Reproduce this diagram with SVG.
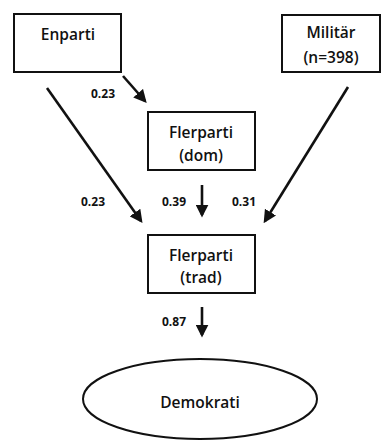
<svg xmlns="http://www.w3.org/2000/svg" width="382" height="441" viewBox="0 0 382 441">
<style>
.box{fill:#fff;stroke:#111;stroke-width:2}
.lbl{font-family:"Open Sans",Lato,sans-serif;font-weight:600;font-size:15.5px;fill:#111;text-anchor:middle}
.num{font-family:"Open Sans",Lato,sans-serif;font-weight:bold;font-size:12px;fill:#111}
.edge{stroke:#111;stroke-width:2.6;fill:none;marker-end:url(#ah)}
</style>
<defs>
<marker id="ah" markerWidth="5" markerHeight="5" refX="4" refY="2.5" orient="auto" markerUnits="strokeWidth">
<path d="M0,0 L5,2.5 L0,5 Z" fill="#111"/>
</marker>
</defs>
<rect width="382" height="441" fill="#fff"/>
<g id="connectors">
<line class="edge" x1="123" y1="76" x2="145" y2="101"/>
<line class="edge" x1="47" y1="88" x2="141" y2="221"/>
<line class="edge" x1="202" y1="185" x2="202" y2="215"/>
<line class="edge" x1="348" y1="87" x2="265" y2="221"/>
<line class="edge" x1="202" y1="307" x2="202" y2="335"/>
<text class="num" x="91" y="98">0.23</text>
<text class="num" x="81" y="206">0.23</text>
<text class="num" x="162" y="206">0.39</text>
<text class="num" x="232" y="206">0.31</text>
<text class="num" x="162" y="326">0.87</text>
</g>
<g id="enparti">
<rect class="box" x="14" y="14" width="107" height="58"/>
<text class="lbl" x="68" y="40">Enparti</text>
</g>
<g id="militar">
<rect class="box" x="282" y="15" width="98" height="57"/>
<text class="lbl" x="331" y="38">Militär</text>
<text class="lbl" x="331" y="63">(n=398)</text>
</g>
<g id="flerparti-dom">
<rect class="box" x="148" y="112" width="107" height="58"/>
<text class="lbl" x="201" y="138">Flerparti</text>
<text class="lbl" x="201" y="161">(dom)</text>
</g>
<g id="flerparti-trad">
<rect class="box" x="148" y="235" width="107" height="58"/>
<text class="lbl" x="201" y="261">Flerparti</text>
<text class="lbl" x="201" y="283">(trad)</text>
</g>
<g id="demokrati">
<ellipse class="box" cx="200" cy="399" rx="117" ry="40"/>
<text class="lbl" x="200" y="408">Demokrati</text>
</g>
</svg>
